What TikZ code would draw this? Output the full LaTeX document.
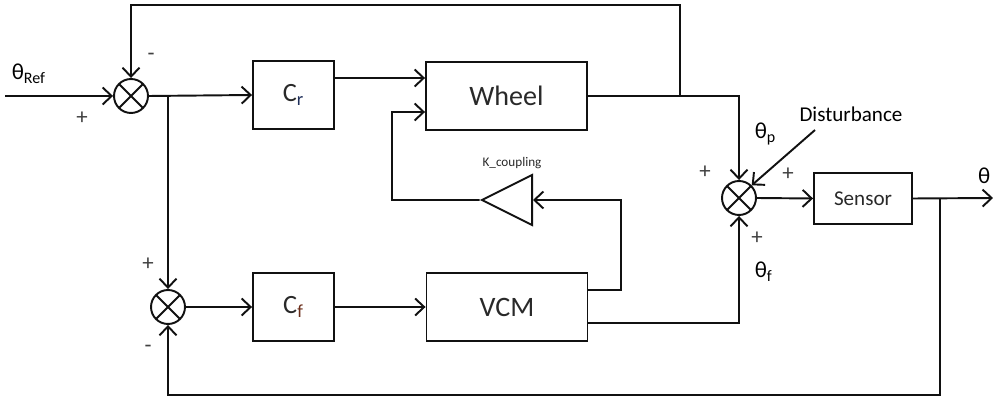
\documentclass[tikz,border=0pt]{standalone}
\usepackage{fontspec}
\setmainfont{Carlito}
\usetikzlibrary{arrows.meta,positioning,calc,shapes.geometric}
\definecolor{ink}{HTML}{111111}
\definecolor{subred}{HTML}{6B2E1A}
\definecolor{subblue}{HTML}{1F2F5A}

\begin{document}
\begin{tikzpicture}[
  x=0.02cm, y=-0.02cm,
  font=\fontsize{13}{15}\selectfont,
  line width=1.1pt,
  block/.style={draw=ink, line width=1.1pt, minimum width=1.62cm, minimum height=1.36cm, inner sep=0pt, text=ink!90},
  sumnode/.style={draw=ink, circle, line width=1.1pt, minimum size=0.68cm, inner sep=0pt,
    path picture={\draw[line width=1.1pt] (path picture bounding box.north west) -- (path picture bounding box.south east)
      (path picture bounding box.north east) -- (path picture bounding box.south west);}},
  gain/.style={draw=ink, isosceles triangle, shape border rotate=180, isosceles triangle stretches,
    minimum width=1cm, minimum height=1cm, inner sep=0pt, line width=1.1pt},
  sig/.style={draw=ink, -{Straight Barb[length=1.8mm,width=3.4mm]}},
  wire/.style={draw=ink},
  sign/.style={text=ink!80, font=\fontsize{13}{15}\selectfont}
]
\useasboundingbox (0,0) rectangle (993,401);

% blocks
\node[sumnode] (s1) at (131,96) {};
\node[sumnode] (s3) at (168,307) {};
\node[sumnode] (s2) at (739,198) {};
\node[block] (cr) at (293.5,95) {\fontsize{15}{17}\selectfont C\textsubscript{\color{subblue}r}};
\node[block] (cf) at (293.5,307) {\fontsize{15}{17}\selectfont C\textsubscript{\color{subred}f}};
\node[block, minimum width=3.22cm] (wheel) at (506.5,96) {\fontsize{16}{18}\selectfont Wheel};
\node[block, minimum width=3.22cm] (vcm) at (507,307) {\fontsize{16}{18}\selectfont VCM};
\node[block, minimum width=1.96cm, minimum height=1.02cm] (sensor) at (863,198.5) {\fontsize{12}{14}\selectfont Sensor};
\node[gain, anchor=east] (kc) at (533,200) {};
\node[font=\fontsize{7.5}{9}\selectfont, text=ink!90] (kclabel) at (512,163) {K\_coupling};

% points on the wires
\coordinate (in) at (5,96);
\coordinate (out) at (993,198);
\coordinate (tapr) at (168,96);
\coordinate (tapw) at (680,96);
\coordinate (taps) at (940,198);
\coordinate (top) at (680,5);
\coordinate (bot) at (940,395);
\coordinate (dist) at (815,130);

% forward path
\draw[sig] (in) -- (s1.west);
\draw[sig] (s1.east) -- (cr.west);
\draw[sig] (tapr) -- (s3.north);
\draw[sig] (s3.east) -- (cf.west);
\draw[sig] ([yshift=0.34cm]cr.east) -- ([yshift=0.34cm]cr.east -| wheel.west);
\draw[sig] (cf.east) -- (vcm.west);
\draw[sig] (wheel.east) -| (s2.north);
\draw[sig] ([yshift=-0.32cm]vcm.east) -| (s2.south);
\draw[sig] (s2.east) -- (sensor.west);
\draw[sig] (sensor.east) -- (out);
\draw[sig] (dist) -- (s2.north east);

% coupling loop
\draw[sig] ([yshift=0.34cm]vcm.east) -| ++(33,0) |- (kc.east);
\draw[sig] (kc.apex) -| (392,112) -- ([yshift=-0.32cm]wheel.west);

% feedback paths
\draw[sig] (tapw) |- (top) -| (s1.north);
\draw[sig] (taps) |- (bot) -| (s3.south);

% signs and signal names
\node[anchor=west] (ref) at (5,74) {θ\textsubscript{Ref}};
\node[sign] (p1) at (82,118) {+};
\node[sign] (m1) at (151,57) {-};
\node[sign] (p3) at (148,264) {+};
\node[sign] (m3) at (148,349) {-};
\node[anchor=west] (thp) at (748,134) {θ\textsubscript{p}};
\node[sign] (p2a) at (705,172) {+};
\node[sign] (p2b) at (788,174) {+};
\node[sign] (p2c) at (757,238) {+};
\node[anchor=west] (thf) at (748,272) {θ\textsubscript{f}};
\node[font=\fontsize{12}{14}\selectfont] (distl) at (851,114) {Disturbance};
\node[anchor=east, inner xsep=1pt] (th) at (993,176) {θ};

\end{tikzpicture}
\end{document}
